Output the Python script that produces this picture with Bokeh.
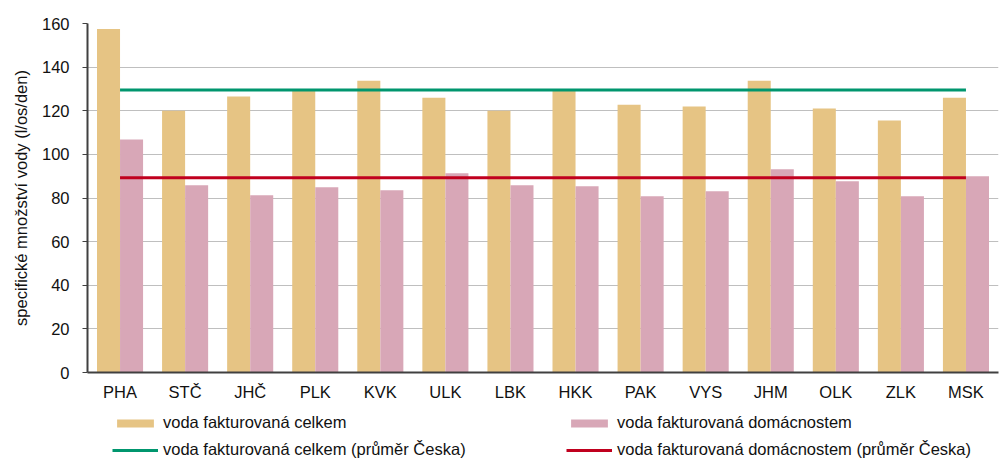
from bokeh.plotting import figure
from bokeh.layouts import column
from bokeh.models import ColumnDataSource, FactorRange, Range1d, FixedTicker, Legend, LegendItem
from bokeh.transform import dodge
from bokeh.embed import file_html
from bokeh.resources import INLINE

regions = ["PHA", "STČ", "JHČ", "PLK", "KVK", "ULK", "LBK",
           "HKK", "PAK", "VYS", "JHM", "OLK", "ZLK", "MSK"]
total = [157.5, 120.0, 126.5, 129.2, 133.8, 126.0, 120.0,
         129.2, 122.8, 122.0, 133.8, 121.0, 115.5, 126.0]
household = [106.8, 85.8, 81.3, 84.9, 83.6, 91.3, 85.8,
             85.4, 80.8, 83.1, 93.2, 87.7, 80.8, 90.0]
avg_total = 129.5
avg_household = 89.3
y_ticks = [0, 20, 40, 60, 80, 100, 120, 140, 160]
labels = ["voda fakturovaná celkem", "voda fakturovaná domácnostem",
          "voda fakturovaná celkem (průměr Česka)",
          "voda fakturovaná domácnostem (průměr Česka)"]

FONT = "Liberation Sans"
FS = "16.5px"
C_TOTAL, C_HOUSE = "#E6C484", "#D8A7B7"
C_AVG_TOTAL, C_AVG_HOUSE = "#00966E", "#C0001E"

source = ColumnDataSource(data=dict(region=regions, total=total, household=household))

p = figure(x_range=FactorRange(*regions), y_range=Range1d(0, 160),
           width=1000, height=403, min_border_left=87, min_border_right=2,
           min_border_top=23, min_border_bottom=30,
           output_backend="svg", toolbar_location=None, tools="")

p.vbar(x=dodge("region", -0.177, range=p.x_range), top="total", width=0.354,
       source=source, fill_color=C_TOTAL, line_color=None)
p.vbar(x=dodge("region", 0.177, range=p.x_range), top="household", width=0.354,
       source=source, fill_color=C_HOUSE, line_color=None)

p.line(x=[regions[0], regions[-1]], y=[avg_total, avg_total],
       line_color=C_AVG_TOTAL, line_width=3)
p.line(x=[regions[0], regions[-1]], y=[avg_household, avg_household],
       line_color=C_AVG_HOUSE, line_width=3)

p.outline_line_color = None
p.xgrid.grid_line_color = None
p.ygrid.grid_line_color = "#BFBFBF"
p.ygrid.grid_line_width = 1

p.yaxis.ticker = FixedTicker(ticks=y_ticks)
p.yaxis.minor_tick_line_color = None
p.yaxis.major_tick_out = 5
p.yaxis.major_tick_in = 0
p.yaxis.major_tick_line_color = "#404040"
p.yaxis.axis_line_color = "#404040"
p.yaxis.axis_line_width = 2
p.yaxis.major_label_standoff = 13
p.yaxis.axis_label = "specifické množství vody (l/os/den)"
p.yaxis.axis_label_standoff = 9
p.yaxis.axis_label_text_font = FONT
p.yaxis.axis_label_text_font_size = FS
p.yaxis.axis_label_text_font_style = "normal"
p.yaxis.axis_label_text_color = "#111111"

p.xaxis.major_tick_line_color = None
p.xaxis.major_tick_out = 0
p.xaxis.axis_line_color = "#404040"
p.xaxis.axis_line_width = 2
p.xaxis.major_label_standoff = 10

for ax in (p.xaxis, p.yaxis):
    ax.major_label_text_font = FONT
    ax.major_label_text_font_size = FS
    ax.major_label_text_color = "#111111"

# legend lives in its own strip under the chart (frame is aligned with the chart's)
lg = figure(width=1000, height=64, x_range=Range1d(0, 1), y_range=Range1d(0, 1),
            x_axis_location=None, y_axis_location=None, min_border=0,
            output_backend="svg", toolbar_location=None, tools="")
lg.outline_line_color = None
lg.grid.grid_line_color = None
# placeholder renderers, zero-sized so nothing shows but the legend swatches
d_total = lg.vbar(x=[0], top=[0], width=0, fill_color=C_TOTAL, line_color=None)
d_house = lg.vbar(x=[0], top=[0], width=0, fill_color=C_HOUSE, line_color=None)
d_avg_total = lg.line(x=[0], y=[0], line_color=C_AVG_TOTAL, line_width=3)
d_avg_house = lg.line(x=[0], y=[0], line_color=C_AVG_HOUSE, line_width=3)

legend = Legend(items=[
    LegendItem(label=labels[0], renderers=[d_total]),
    LegendItem(label=labels[1], renderers=[d_house]),
    LegendItem(label=labels[2], renderers=[d_avg_total]),
    LegendItem(label=labels[3], renderers=[d_avg_house]),
], location=(25, 8), orientation="horizontal", ncols=2,
    glyph_width=46, glyph_height=10, label_standoff=5, label_width=395, spacing=8,
    padding=0, margin=0, border_line_color=None, background_fill_alpha=0,
    label_text_font=FONT, label_text_font_size=FS, label_text_color="#111111")
lg.add_layout(legend, "center")

open("out.html", "w").write(file_html(column(p, lg), INLINE))
